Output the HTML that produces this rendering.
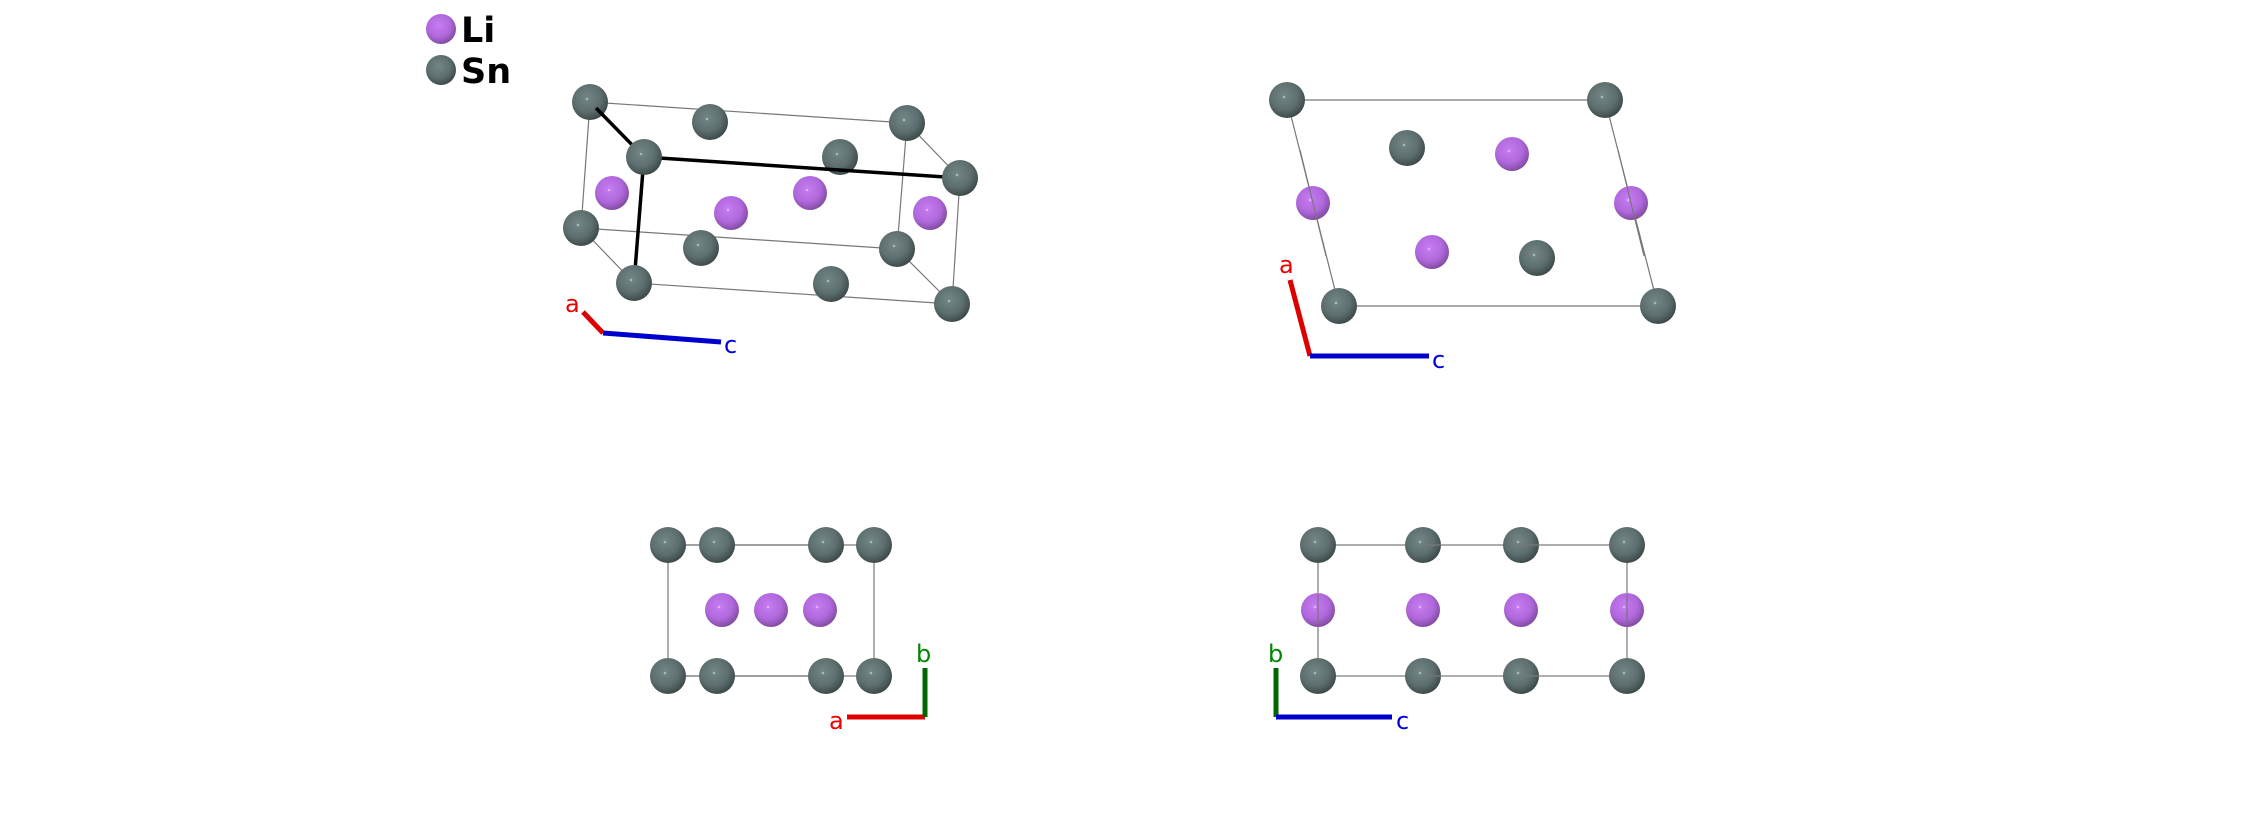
<!DOCTYPE html>
<html><head><meta charset="utf-8"><style>
html,body{margin:0;padding:0;background:#fff;}
svg{display:block;}
</style></head><body>
<svg width="2244" height="814" viewBox="0 0 2244 814" xmlns="http://www.w3.org/2000/svg">
<defs>
<radialGradient id="sn" cx="0.42" cy="0.38" r="0.65">
<stop offset="0" stop-color="#738686"/><stop offset="0.6" stop-color="#5d6e6e"/><stop offset="1" stop-color="#3a4646"/>
</radialGradient>
<radialGradient id="li" cx="0.42" cy="0.38" r="0.65">
<stop offset="0" stop-color="#c77cf2"/><stop offset="0.6" stop-color="#b068dc"/><stop offset="1" stop-color="#7e4a9c"/>
</radialGradient>
<symbol id="S" overflow="visible"><circle r="18" fill="url(#sn)"/><circle cx="-3" cy="-3" r="1.3" fill="#a8b8b8"/></symbol>
<symbol id="L" overflow="visible"><circle r="17" fill="url(#li)"/><circle cx="-3" cy="-3" r="1.3" fill="#e0b0ff"/></symbol>
</defs>
<style>text{font-family:"DejaVu Sans","Liberation Sans",sans-serif;}</style>

<!-- legend -->
<circle cx="441" cy="29" r="15" fill="url(#li)"/>
<text x="461" y="42" font-size="35" font-weight="bold" fill="#000">Li</text>
<circle cx="441" cy="70" r="15" fill="url(#sn)"/>
<text x="461" y="83" font-size="35" font-weight="bold" fill="#000">Sn</text>

<!-- panel 1 -->
<g stroke="#777" stroke-width="1.2" fill="none">
<line x1="590" y1="102" x2="907" y2="123"/>
<line x1="590" y1="102" x2="581" y2="228"/>
<line x1="907" y1="123" x2="960" y2="178"/>
<line x1="907" y1="123" x2="897" y2="249"/>
<line x1="581" y1="228" x2="897" y2="249"/>
<line x1="581" y1="228" x2="634" y2="283"/>
<line x1="634" y1="283" x2="952" y2="304"/>
<line x1="952" y1="304" x2="960" y2="178"/>
<line x1="897" y1="249" x2="952" y2="304"/>
</g>
<use href="#S" x="590" y="102"/>
<use href="#S" x="710" y="122"/>
<use href="#S" x="907" y="123"/>
<use href="#S" x="840" y="157"/>
<use href="#S" x="581" y="228"/>
<use href="#S" x="701" y="248"/>
<use href="#S" x="897" y="249"/>
<use href="#L" x="612" y="193"/>
<use href="#L" x="810" y="193"/>
<g stroke="#000" stroke-width="3.5" fill="none">
<line x1="596" y1="108" x2="644" y2="157"/>
<line x1="644" y1="157" x2="960" y2="178"/>
<line x1="644" y1="157" x2="634" y2="283"/>
</g>
<use href="#S" x="644" y="157"/>
<use href="#S" x="960" y="178"/>
<use href="#L" x="731" y="213"/>
<use href="#L" x="930" y="213"/>
<use href="#S" x="634" y="283"/>
<use href="#S" x="831" y="284"/>
<use href="#S" x="952" y="304"/>
<line x1="583" y1="312" x2="603" y2="333" stroke="#d00" stroke-width="5"/>
<line x1="603" y1="333" x2="721" y2="342" stroke="#0000cc" stroke-width="5"/>
<text x="565" y="312" font-size="24" fill="#e00">a</text>
<text x="724" y="353" font-size="24" fill="#00d">c</text>

<!-- panel 2 -->
<g stroke="#777" stroke-width="1.2" fill="none">
<line x1="1287" y1="100" x2="1605" y2="100"/>
<line x1="1339" y1="306" x2="1658" y2="306"/>
<line x1="1287" y1="100" x2="1339" y2="306"/>
<line x1="1605" y1="100" x2="1658" y2="306"/>
</g>
<use href="#S" x="1287" y="100"/>
<use href="#S" x="1605" y="100"/>
<use href="#S" x="1407" y="148"/>
<use href="#L" x="1512" y="154"/>
<use href="#L" x="1313" y="203"/>
<use href="#L" x="1631" y="203"/>
<use href="#L" x="1432" y="252"/>
<use href="#S" x="1537" y="258"/>
<use href="#S" x="1339" y="306"/>
<use href="#S" x="1658" y="306"/>
<g stroke="#777" stroke-width="1.2"><line x1="1300" y1="150" x2="1326" y2="256"/><line x1="1618" y1="150" x2="1644" y2="256"/></g>
<line x1="1290" y1="280" x2="1310" y2="356" stroke="#d00" stroke-width="5"/>
<line x1="1310" y1="356" x2="1429" y2="356" stroke="#0000cc" stroke-width="5"/>
<text x="1279" y="273" font-size="24" fill="#e00">a</text>
<text x="1432" y="368" font-size="24" fill="#00d">c</text>

<!-- panel 3 -->
<rect x="668" y="545" width="206" height="131" fill="none" stroke="#777" stroke-width="1.2"/>
<use href="#S" x="668" y="545"/><use href="#S" x="717" y="545"/><use href="#S" x="826" y="545"/><use href="#S" x="874" y="545"/>
<use href="#L" x="722" y="610"/><use href="#L" x="771" y="610"/><use href="#L" x="820" y="610"/>
<use href="#S" x="668" y="676"/><use href="#S" x="717" y="676"/><use href="#S" x="826" y="676"/><use href="#S" x="874" y="676"/>
<g stroke="#777" stroke-width="1.2"><line x1="686" y1="545" x2="699" y2="545"/><line x1="735" y1="545" x2="808" y2="545"/><line x1="686" y1="676" x2="699" y2="676"/><line x1="735" y1="676" x2="808" y2="676"/></g>
<line x1="847" y1="717" x2="925" y2="717" stroke="#d00" stroke-width="5"/>
<line x1="925" y1="668" x2="925" y2="717" stroke="#006600" stroke-width="5"/>
<text x="829" y="729" font-size="24" fill="#e00">a</text>
<text x="916" y="662" font-size="24" fill="#080">b</text>

<!-- panel 4 -->
<rect x="1318" y="545" width="309" height="131" fill="none" stroke="#777" stroke-width="1.2"/>
<use href="#S" x="1318" y="545"/><use href="#S" x="1423" y="545"/><use href="#S" x="1521" y="545"/><use href="#S" x="1627" y="545"/>
<use href="#L" x="1318" y="610"/><use href="#L" x="1423" y="610"/><use href="#L" x="1521" y="610"/><use href="#L" x="1627" y="610"/>
<use href="#S" x="1318" y="676"/><use href="#S" x="1423" y="676"/><use href="#S" x="1521" y="676"/><use href="#S" x="1627" y="676"/>
<g stroke="#777" stroke-width="1.2"><line x1="1318" y1="595" x2="1318" y2="625"/><line x1="1627" y1="595" x2="1627" y2="625"/><line x1="1423" y1="545" x2="1441" y2="545"/><line x1="1521" y1="545" x2="1539" y2="545"/><line x1="1423" y1="676" x2="1441" y2="676"/><line x1="1521" y1="676" x2="1539" y2="676"/></g>
<line x1="1276" y1="668" x2="1276" y2="717" stroke="#006600" stroke-width="5"/>
<line x1="1276" y1="717" x2="1392" y2="717" stroke="#0000cc" stroke-width="5"/>
<text x="1268" y="662" font-size="24" fill="#080">b</text>
<text x="1396" y="729" font-size="24" fill="#00d">c</text>
</svg>
</body></html>
